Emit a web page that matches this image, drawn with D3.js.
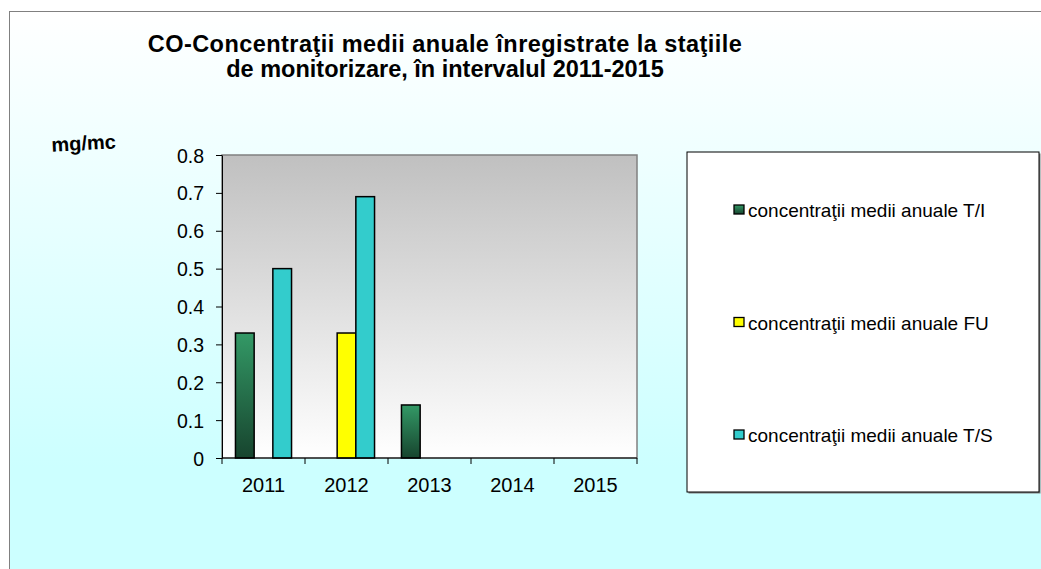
<!DOCTYPE html>
<html>
<head>
<meta charset="utf-8">
<script src="https://cdn.jsdelivr.net/npm/d3@7"></script>
<style>
  html, body { margin: 0; padding: 0; background: #fff; }
  svg { display: block; font-family: "Liberation Sans", Arial, sans-serif; }
</style>
</head>
<body>
<svg id="chart" width="1041" height="569"></svg>
<script>
  // data
  const years = ['2011', '2012', '2013', '2014', '2015'];
  const seriesNames = [
    'concentraţii medii anuale T/I',
    'concentraţii medii anuale FU',
    'concentraţii medii anuale T/S'
  ];
  const valuesTI = [0.33, null, 0.14, null, null];
  const valuesFU = [null, 0.33, null, null, null];
  const valuesTS = [0.5, 0.69, null, null, null];
  const yTicks = [0, 0.1, 0.2, 0.3, 0.4, 0.5, 0.6, 0.7, 0.8];
  const titleLines = [
    'CO-Concentraţii medii anuale înregistrate la staţiile',
    'de monitorizare, în intervalul 2011-2015'
  ];

  const fills = ['url(#gradTI)', '#ffff00', '#33cccc'];
  const allSeries = [valuesTI, valuesFU, valuesTS];
  const font = '"Liberation Sans", Arial, sans-serif';

  const svg = d3.select('#chart');
  const defs = svg.append('defs');

  const bg = defs.append('linearGradient').attr('id', 'bgGrad')
    .attr('x1', 0).attr('y1', 0).attr('x2', 0).attr('y2', 1);
  bg.append('stop').attr('offset', '0%').attr('stop-color', '#ffffff');
  bg.append('stop').attr('offset', '80%').attr('stop-color', '#ccffff');
  bg.append('stop').attr('offset', '100%').attr('stop-color', '#ccffff');

  const plotGrad = defs.append('linearGradient').attr('id', 'plotGrad')
    .attr('x1', 0).attr('y1', 0).attr('x2', 0).attr('y2', 1);
  plotGrad.append('stop').attr('offset', '0%').attr('stop-color', '#c0c0c0');
  plotGrad.append('stop').attr('offset', '100%').attr('stop-color', '#ffffff');

  const ti = defs.append('linearGradient').attr('id', 'gradTI')
    .attr('x1', 0).attr('y1', 0).attr('x2', 0).attr('y2', 1);
  ti.append('stop').attr('offset', '0%').attr('stop-color', '#339966');
  ti.append('stop').attr('offset', '100%').attr('stop-color', '#17442e');

  // page background and outer frame
  svg.append('rect').attr('x', 0).attr('y', 0).attr('width', 1041).attr('height', 569).attr('fill', '#fff');
  svg.append('rect')
    .attr('x', 9.5).attr('y', 11.5).attr('width', 1040).attr('height', 570)
    .attr('fill', 'url(#bgGrad)').attr('stroke', '#808080').attr('stroke-width', 1);

  // title
  const title = svg.append('text')
    .attr('text-anchor', 'middle')
    .attr('font-size', 23.5).attr('font-weight', 'bold');
  titleLines.forEach((line, i) => {
    title.append('tspan').attr('x', 445).attr('y', 52 + i * 25)
      .attr('letter-spacing', i === 0 ? 0.45 : 0)
      .text(line);
  });

  svg.append('text')
    .attr('transform', 'translate(84,150) rotate(-3)')
    .attr('text-anchor', 'middle')
    .attr('font-size', 20).attr('font-weight', 'bold')
    .text('mg/mc');

  const plot = { left: 222, top: 155, right: 637, bottom: 458 };

  const x = d3.scaleBand().domain(years).range([plot.left, plot.right]);
  const inner = d3.scaleBand().domain(d3.range(seriesNames.length))
    .range([0, x.bandwidth()]).paddingOuter(0.72).paddingInner(0);
  const y = d3.scaleLinear().domain([0, 0.8]).range([plot.bottom, plot.top]);

  svg.append('rect')
    .attr('x', plot.left).attr('y', plot.top)
    .attr('width', plot.right - plot.left).attr('height', plot.bottom - plot.top)
    .attr('fill', 'url(#plotGrad)').attr('stroke', '#808080').attr('stroke-width', 1.5);

  // bars
  const barData = [];
  years.forEach((yr, i) => {
    allSeries.forEach((vals, s) => {
      if (vals[i] != null) barData.push({ year: yr, s, v: vals[i] });
    });
  });
  svg.append('g').selectAll('rect').data(barData).enter().append('rect')
    .attr('x', (d) => x(d.year) + inner(d.s))
    .attr('y', (d) => y(d.v))
    .attr('width', inner.bandwidth())
    .attr('height', (d) => y(0) - y(d.v))
    .attr('fill', (d) => fills[d.s])
    .attr('stroke', '#000').attr('stroke-width', 1.5);

  // axes
  const yAxis = svg.append('g').attr('transform', `translate(${plot.left},0)`)
    .call(d3.axisLeft(y).tickValues(yTicks).tickSize(6).tickSizeOuter(0)
      .tickFormat((d) => d === 0 ? '0' : d3.format('.1f')(d)));
  yAxis.selectAll('text').attr('font-size', 19.5).attr('fill', '#000')
    .attr('x', -18).attr('dy', '0.36em').attr('font-family', font);
  yAxis.select('.domain').attr('stroke', '#000');
  yAxis.selectAll('line').attr('stroke', '#000');

  const xAxis = svg.append('g').attr('transform', `translate(0,${plot.bottom})`)
    .call(d3.axisBottom(x).tickSize(0).tickSizeOuter(0));
  xAxis.selectAll('text').attr('font-size', 20).attr('fill', '#000')
    .attr('y', 34).attr('dy', 0).attr('font-family', font);
  xAxis.select('.domain').remove();

  // category boundary ticks
  const bounds = years.map((yr) => x(yr)).concat([plot.right]);
  svg.append('g').selectAll('line').data(bounds).enter().append('line')
    .attr('x1', (d) => d).attr('x2', (d) => d)
    .attr('y1', plot.bottom).attr('y2', plot.bottom + 6)
    .attr('stroke', '#000');
  svg.append('line')
    .attr('x1', plot.left).attr('x2', plot.right)
    .attr('y1', plot.bottom).attr('y2', plot.bottom)
    .attr('stroke', '#000').attr('stroke-width', 1);

  // legend
  const lg = { x: 687, y: 152, w: 352, h: 340 };
  svg.append('rect')
    .attr('x', lg.x + 1.5).attr('y', lg.y + 1.5).attr('width', lg.w).attr('height', lg.h)
    .attr('fill', '#808080');
  svg.append('rect')
    .attr('x', lg.x).attr('y', lg.y).attr('width', lg.w).attr('height', lg.h)
    .attr('fill', '#fff').attr('stroke', '#000').attr('stroke-width', 1);

  const legendY = d3.scalePoint().domain(d3.range(seriesNames.length))
    .range([210, 435]);
  const items = svg.append('g').selectAll('g').data(seriesNames).enter().append('g')
    .attr('transform', (d, i) => `translate(734,${legendY(i)})`);
  items.append('rect')
    .attr('x', 0).attr('y', -5).attr('width', 10).attr('height', 9)
    .attr('fill', (d, i) => fills[i]).attr('stroke', '#000').attr('stroke-width', 1.3);
  items.append('text')
    .attr('x', 14).attr('y', 7)
    .attr('font-size', 19).attr('fill', '#000')
    .text((d) => d);
</script>
</body>
</html>
